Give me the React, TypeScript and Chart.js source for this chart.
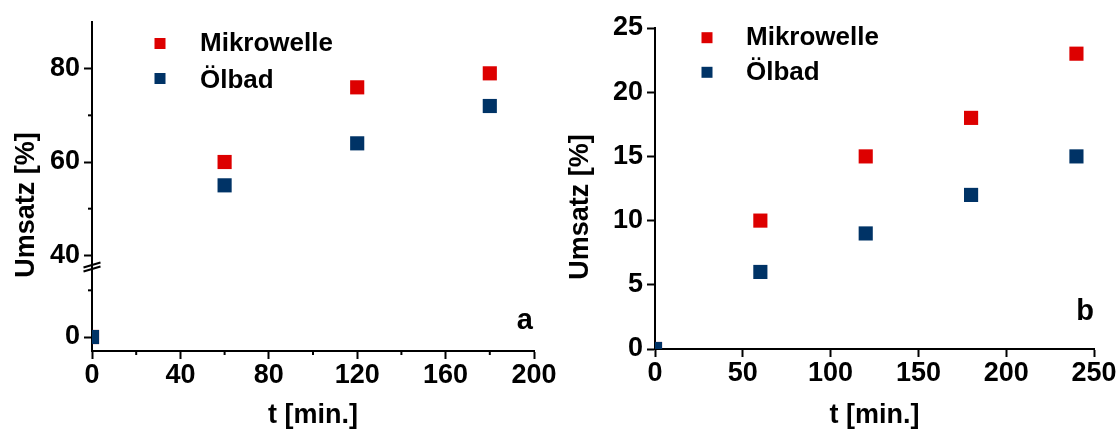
import React, { useEffect, useRef } from 'react';
import { Chart, registerables } from 'chart.js';

Chart.register(...registerables);

const FONT = "'Liberation Sans', Arial, Helvetica, sans-serif";

// Series
const SERIES_NAMES = ['Mikrowelle', 'Ölbad'];
const SERIES_COLORS = ['#dd0000', '#003366'];
const Y_TITLE = 'Umsatz [%]';
const X_TITLE = 't [min.]';

// Panel a
const timesA = [0, 60, 120, 180];
const mikroA = [0, 60, 76, 79];
const oelA = [0, 55, 64, 72];
const xTicksA = [0, 40, 80, 120, 160, 200];
const xMinorA = [20, 60, 100, 140, 180];
const yTicksHighA = [40, 60, 80];
const yMinorHighA = [50, 70];
const yTicksLowA = [0];
const yMinorLowA = [10];
const yRangeHighA = [37.5, 90];
const yRangeLowA = [-3, 15];
const xRangeA = [0, 200];

// Panel b
const timesB = [0, 60, 120, 180, 240];
const mikroB = [0, 10, 15, 18, 23];
const oelB = [0, 6, 9, 12, 15];
const xTicksB = [0, 50, 100, 150, 200, 250];
const yTicksB = [0, 5, 10, 15, 20, 25];
const xRangeB = [0, 250];
const yRangeB = [0, 25];

const toPoints = (times: number[], vals: number[], keep: (v: number) => boolean) =>
  times.map((t, i) => ({ x: t, y: vals[i] })).filter((p) => keep(p.y));

const tickFont = { family: FONT, size: 27, weight: 'bold' as const };
const titleFont = { family: FONT, size: 27, weight: 'bold' as const };

function axis(tickValues: number[], range: number[], extra: any) {
  return {
    type: 'linear',
    min: range[0],
    max: range[1],
    border: { display: true, color: '#000', width: 2 },
    grid: {
      display: true,
      drawOnChartArea: false,
      drawTicks: true,
      tickLength: 8,
      tickWidth: 2,
      tickColor: '#000',
    },
    ticks: {
      color: '#000',
      font: tickFont,
      padding: 4,
      autoSkip: false,
      maxRotation: 0,
      minRotation: 0,
    },
    afterBuildTicks: (s: any) => {
      s.ticks = tickValues.map((v) => ({ value: v }));
    },
    ...extra,
  };
}

function scatterSet(label: string, color: string, data: any[], yAxisID: string, order: number) {
  return {
    type: 'scatter',
    label,
    data,
    yAxisID,
    order,
    pointStyle: 'rect',
    pointRadius: 10,
    pointHoverRadius: 10,
    backgroundColor: color,
    borderColor: color,
    borderWidth: 0,
    clip: 0,
  };
}

const minorTicksPlugin = {
  id: 'minorTicks',
  afterDraw(chart: any, _a: any, opts: any) {
    const ctx = chart.ctx;
    const list = opts.items || [];
    ctx.save();
    ctx.strokeStyle = '#000';
    ctx.lineWidth = 2;
    for (const item of list) {
      const scale = chart.scales[item.axis];
      if (!scale) continue;
      for (const v of item.values) {
        const p = scale.getPixelForValue(v);
        ctx.beginPath();
        if (scale.isHorizontal()) {
          ctx.moveTo(p, scale.top);
          ctx.lineTo(p, scale.top + opts.length);
        } else {
          ctx.moveTo(scale.right, p);
          ctx.lineTo(scale.right - opts.length, p);
        }
        ctx.stroke();
      }
    }
    ctx.restore();
  },
};

const breakPlugin = {
  id: 'axisBreak',
  afterDraw(chart: any, _a: any, opts: any) {
    if (!opts.enabled) return;
    const hi = chart.scales[opts.upper];
    const lo = chart.scales[opts.lower];
    if (!hi || !lo) return;
    const ctx = chart.ctx;
    const x = hi.right;
    const y = (hi.bottom + lo.top) / 2;
    ctx.save();
    ctx.strokeStyle = '#000';
    ctx.lineWidth = 2;
    for (const dy of [-2, 2]) {
      ctx.beginPath();
      ctx.moveTo(x - 8.5, y + dy + 2.5);
      ctx.lineTo(x + 8.5, y + dy - 2.5);
      ctx.stroke();
    }
    ctx.restore();
  },
};

const textPlugin = {
  id: 'panelText',
  afterDraw(chart: any, _a: any, opts: any) {
    const ctx = chart.ctx;
    ctx.save();
    ctx.fillStyle = '#000';
    if (opts.yTitle) {
      const t = opts.yTitle;
      ctx.save();
      ctx.translate(t.x, t.y);
      ctx.rotate(-Math.PI / 2);
      ctx.font = `bold ${t.size}px ${FONT}`;
      ctx.textAlign = 'center';
      ctx.textBaseline = 'middle';
      ctx.fillText(Y_TITLE, 0, 0);
      ctx.restore();
    }
    if (opts.letter) {
      const l = opts.letter;
      ctx.font = `bold ${l.size}px ${FONT}`;
      ctx.textAlign = 'right';
      ctx.textBaseline = 'alphabetic';
      ctx.fillText(l.text, l.x, l.y);
    }
    if (opts.legend) {
      const lg = opts.legend;
      const seen: string[] = [];
      const items: { label: string; color: string }[] = [];
      for (const ds of chart.data.datasets) {
        if (seen.indexOf(ds.label) >= 0) continue;
        seen.push(ds.label);
        items.push({ label: ds.label, color: ds.backgroundColor });
      }
      items.forEach((it, i) => {
        const my = lg.markerY[i];
        const ty = lg.textY[i];
        ctx.fillStyle = it.color;
        ctx.fillRect(lg.markerX - lg.markerSize / 2, my - lg.markerSize / 2, lg.markerSize, lg.markerSize);
        ctx.fillStyle = '#000';
        ctx.font = `bold ${lg.size}px ${FONT}`;
        ctx.textAlign = 'left';
        ctx.textBaseline = 'middle';
        ctx.fillText(it.label, lg.textX, ty);
      });
    }
    ctx.restore();
  },
};

function xAxisTitle() {
  return {
    display: true,
    text: X_TITLE,
    color: '#000',
    font: titleFont,
    padding: { top: 0, bottom: 0 },
  };
}

function configA(): any {
  const isHigh = (v: number) => v >= yRangeHighA[0];
  const isLow = (v: number) => v < yRangeHighA[0];
  return {
    data: {
      datasets: [
        scatterSet(SERIES_NAMES[0], SERIES_COLORS[0], toPoints(timesA, mikroA, isHigh), 'y', 1),
        scatterSet(SERIES_NAMES[1], SERIES_COLORS[1], toPoints(timesA, oelA, isHigh), 'y', 0),
        scatterSet(SERIES_NAMES[0], SERIES_COLORS[0], toPoints(timesA, mikroA, isLow), 'yLow', 1),
        scatterSet(SERIES_NAMES[1], SERIES_COLORS[1], toPoints(timesA, oelA, isLow), 'yLow', 0),
      ],
    },
    options: {
      animation: false,
      responsive: false,
      maintainAspectRatio: false,
      layout: { padding: { top: 22, right: 26, bottom: 0, left: 0 } },
      scales: {
        x: axis(xTicksA, xRangeA, {
          position: 'bottom',
          title: xAxisTitle(),
          ticks: { color: '#000', font: tickFont, padding: 0, autoSkip: false, maxRotation: 0, minRotation: 0 },
          afterFit: (s: any) => {
            s.height = 81;
          },
        }),
        yLow: axis(yTicksLowA, yRangeLowA, {
          position: 'left',
          stack: 'yStack',
          stackWeight: yRangeLowA[1] - yRangeLowA[0],
          afterFit: (s: any) => {
            s.width = 92;
          },
        }),
        y: axis(yTicksHighA, yRangeHighA, {
          position: 'left',
          stack: 'yStack',
          stackWeight: yRangeHighA[1] - yRangeHighA[0],
          afterFit: (s: any) => {
            s.width = 92;
          },
        }),
      },
      plugins: {
        legend: { display: false },
        tooltip: { enabled: false },
        minorTicks: {
          length: 4,
          items: [
            { axis: 'x', values: xMinorA },
            { axis: 'y', values: yMinorHighA },
            { axis: 'yLow', values: yMinorLowA },
          ],
        },
        axisBreak: { enabled: true, upper: 'y', lower: 'yLow' },
        panelText: {
          yTitle: { x: 27, y: 205, size: 27 },
          letter: { text: 'a', x: 533, y: 329, size: 29 },
          legend: {
            markerX: 160,
            markerY: [43.5, 78.5],
            markerSize: 11,
            textX: 200,
            textY: [44, 81],
            size: 26,
          },
        },
      },
    },
    plugins: [minorTicksPlugin, breakPlugin, textPlugin],
  };
}

function configB(): any {
  const all = () => true;
  return {
    data: {
      datasets: [
        scatterSet(SERIES_NAMES[0], SERIES_COLORS[0], toPoints(timesB, mikroB, all), 'y', 1),
        scatterSet(SERIES_NAMES[1], SERIES_COLORS[1], toPoints(timesB, oelB, all), 'y', 0),
      ],
    },
    options: {
      animation: false,
      responsive: false,
      maintainAspectRatio: false,
      layout: { padding: { top: 28, right: 26, bottom: 0, left: 0 } },
      scales: {
        x: axis(xTicksB, xRangeB, {
          position: 'bottom',
          title: xAxisTitle(),
          ticks: { color: '#000', font: tickFont, padding: 0, autoSkip: false, maxRotation: 0, minRotation: 0 },
          afterFit: (s: any) => {
            s.height = 83;
          },
        }),
        y: axis(yTicksB, yRangeB, {
          position: 'left',
          afterFit: (s: any) => {
            s.width = 95;
          },
        }),
      },
      plugins: {
        legend: { display: false },
        tooltip: { enabled: false },
        minorTicks: { length: 4, items: [] },
        axisBreak: { enabled: false },
        panelText: {
          yTitle: { x: 21, y: 207, size: 27 },
          letter: { text: 'b', x: 534, y: 320, size: 29 },
          legend: {
            markerX: 147,
            markerY: [37.7, 72.3],
            markerSize: 11,
            textX: 186,
            textY: [38, 73],
            size: 26,
          },
        },
      },
    },
    plugins: [minorTicksPlugin, breakPlugin, textPlugin],
  };
}

function Panel({ make }: { make: () => any }) {
  const ref = useRef<HTMLCanvasElement | null>(null);
  useEffect(() => {
    if (!ref.current) return;
    const chart = new Chart(ref.current, make());
    return () => chart.destroy();
  }, [make]);
  return (
    <div style={{ width: 560, height: 432, position: 'relative' }}>
      <canvas ref={ref} width={560} height={432} style={{ display: 'block', width: 560, height: 432 }} />
    </div>
  );
}

export default function App() {
  return (
    <div
      style={{
        position: 'absolute',
        left: 0,
        top: 0,
        width: 1120,
        height: 432,
        display: 'flex',
        background: '#fff',
      }}
    >
      <Panel make={configA} />
      <Panel make={configB} />
    </div>
  );
}
